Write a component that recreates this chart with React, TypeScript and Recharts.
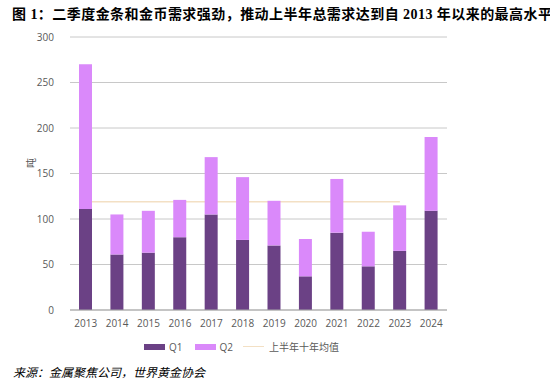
import { ComposedChart, Bar, Line, XAxis, YAxis, CartesianGrid } from "recharts";

const years = ["2013", "2014", "2015", "2016", "2017", "2018", "2019", "2020", "2021", "2022", "2023", "2024"];
const q1 = [111, 61, 63, 80, 105, 77, 71, 37, 85, 48, 65, 109];
const q2 = [159, 44, 46, 41, 63, 69, 49, 41, 59, 38, 50, 81];
const tenYearAvg = [119, 119, 119, 119, 119, 119, 119, 119, 119, 119, 119, null];
const yTicks = [0, 50, 100, 150, 200, 250, 300];

const Q1_COLOR = "#6b4185";
const Q2_COLOR = "#da89fa";
const AVG_COLOR = "#f3e0c4";

const data = years.map((year, i) => ({
  year,
  q1: q1[i],
  q2: q2[i],
  avg: tenYearAvg[i],
}));

const axisFont = { fontFamily: "'Open Sans', sans-serif", fontSize: 10, fill: "#595959" };

export default function App() {
  return (
    <div
      style={{
        position: "absolute",
        left: 0,
        top: 0,
        width: 550,
        height: 386,
        background: "#fff",
        overflow: "hidden",
      }}
    >
      <div
        style={{
          position: "absolute",
          left: 12,
          top: 6,
          whiteSpace: "nowrap",
          fontFamily: "'Liberation Serif', 'Noto Sans CJK SC', serif",
          fontWeight: "bold",
          fontSize: 14,
          letterSpacing: 0.45,
          lineHeight: "18px",
          color: "#000",
        }}
      >
        图 1：二季度金条和金币需求强劲，推动上半年总需求达到自 2013 年以来的最高水平。
      </div>

      <div style={{ position: "absolute", left: 0, top: 0 }}>
        <ComposedChart
          width={550}
          height={386}
          data={data}
          margin={{ top: 37, right: 103, bottom: 46, left: 0 }}
        >
          <CartesianGrid vertical={false} stroke="#c8c8c8" />
          <XAxis
            dataKey="year"
            tickLine={false}
            axisLine={{ stroke: "#a6a6a6" }}
            tick={axisFont}
            tickMargin={4}
            height={30}
            interval={0}
          />
          <YAxis
            domain={[0, 300]}
            ticks={yTicks}
            tickLine={false}
            axisLine={false}
            tick={axisFont}
            tickMargin={10}
            width={70}
          />
          {/* ten-year average sits behind the bars */}
          <Line
            dataKey="avg"
            stroke={AVG_COLOR}
            strokeWidth={1.5}
            dot={false}
            activeDot={false}
            connectNulls={false}
            zIndex={250}
            isAnimationActive={false}
          />
          <Bar dataKey="q1" stackId="a" fill={Q1_COLOR} barSize={13} isAnimationActive={false} />
          <Bar dataKey="q2" stackId="a" fill={Q2_COLOR} barSize={13} isAnimationActive={false} />
        </ComposedChart>
      </div>

      <div
        style={{
          position: "absolute",
          left: 26,
          top: 157,
          transform: "rotate(-90deg)",
          fontFamily: "'Noto Sans CJK SC', sans-serif",
          fontSize: 10,
          color: "#595959",
          lineHeight: "12px",
        }}
      >
        吨
      </div>

      <div
        style={{
          position: "absolute",
          left: 144,
          top: 339,
          display: "flex",
          alignItems: "center",
          fontFamily: "'Open Sans', 'Noto Sans CJK SC', sans-serif",
          fontSize: 10,
          color: "#595959",
          whiteSpace: "nowrap",
        }}
      >
        <span style={{ display: "inline-block", width: 21, height: 6, background: Q1_COLOR, marginRight: 4 }} />
        <span style={{ marginRight: 12 }}>Q1</span>
        <span style={{ display: "inline-block", width: 21, height: 6, background: Q2_COLOR, marginRight: 4 }} />
        <span style={{ marginRight: 10 }}>Q2</span>
        <span style={{ display: "inline-block", width: 21, height: 1.5, background: AVG_COLOR, marginRight: 5 }} />
        <span>上半年十年均值</span>
      </div>

      <div
        style={{
          position: "absolute",
          left: 13,
          top: 363,
          fontFamily: "'Noto Sans CJK SC', sans-serif",
          fontStyle: "italic",
          fontSize: 12,
          color: "#000",
          whiteSpace: "nowrap",
        }}
      >
        来源：金属聚焦公司，世界黄金协会
      </div>
    </div>
  );
}
